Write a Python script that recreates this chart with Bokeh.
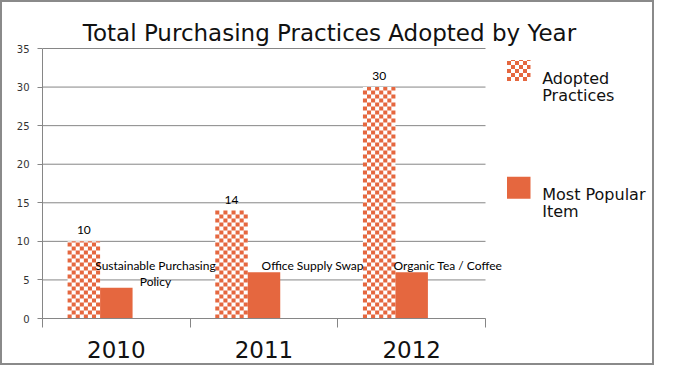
import math

from bokeh.plotting import figure
from bokeh.models import ColumnDataSource, Range1d, FixedTicker
from bokeh.transform import dodge
from bokeh.core.properties import value
from bokeh.embed import file_html
from bokeh.resources import INLINE

# ---- data ----
years = ["2010", "2011", "2012"]
adopted = [10, 14, 30]
popular = [4, 6, 6]
popular_items = ["Sustainable Purchasing\nPolicy", "Office Supply Swap", "Organic Tea / Coffee"]
series_names = ["Adopted\nPractices", "Most Popular\nItem"]
title_text = "Total Purchasing Practices Adopted by Year"
y_ticks = [0, 5, 10, 15, 20, 25, 30, 35]
y_max = 35

# ---- style / layout constants (pixels) ----
ORANGE = "#E5673F"
GRID = "#868686"
W, H = 654, 365
FL, FB = 40, 49               # frame left / bottom borders
CAT_PX = 443 / 3              # pixels per category
UNIT_PX = 270 / 35            # pixels per y unit
BAR_W = 0.22
CELL_PX = 4
ITEM_LABEL_DX = [0.265, 0.33, 0.245]   # label placement offsets (style)
ITEM_LABEL_Y = 7.8


def dx(px):
    return (px - FL) / CAT_PX


def dy(py):
    return (H - FB - py) / UNIT_PX


CELL_X = CELL_PX / CAT_PX
CELL_Y = CELL_PX / UNIT_PX


def checker_cells(x0, x1, y0, y1, cx, cy, out):
    nc = math.ceil((x1 - x0) / cx - 1e-9)
    nr = math.ceil((y1 - y0) / cy - 1e-9)
    for r in range(nr):
        for c in range(nc):
            if (r + c) % 2 == 0:
                out["left"].append(x0 + c * cx)
                out["right"].append(min(x0 + (c + 1) * cx, x1))
                out["bottom"].append(y0 + r * cy)
                out["top"].append(min(y0 + (r + 1) * cy, y1))


xc = [i + 0.5 for i in range(len(years))]
src = ColumnDataSource(dict(
    xc=xc, adopted=adopted, popular=popular,
    adopted_lbl=[str(v) for v in adopted], item=popular_items,
    item_x=[x + d for x, d in zip(xc, ITEM_LABEL_DX)], item_y=[ITEM_LABEL_Y] * len(years),
))

p = figure(width=W, height=H, output_backend="svg", toolbar_location=None,
           x_range=Range1d(0, dx(W)), y_range=Range1d(0, dy(0)),
           min_border_left=FL, min_border_right=0, min_border_top=0, min_border_bottom=FB)
p.styles = {"border": "2px solid #8a8a8a"}
p.outline_line_color = None
p.background_fill_color = "white"
p.border_fill_color = "white"
p.xgrid.grid_line_color = None
p.ygrid.grid_line_color = None

# horizontal grid lines over the category area
p.segment(x0=[0] * len(y_ticks), x1=[len(years)] * len(y_ticks), y0=y_ticks, y1=y_ticks,
          line_color=GRID, line_width=1)

# adopted practices: white base + checker cells
p.vbar(x=dodge("xc", -BAR_W), top="adopted", width=BAR_W, source=src,
       fill_color="white", line_color=None)
cells = dict(left=[], right=[], bottom=[], top=[])
for x, a in zip(xc, adopted):
    checker_cells(x - 1.5 * BAR_W, x - 0.5 * BAR_W, 0, a, BAR_W / 8, CELL_Y, cells)

# legend swatches (pixel positions converted to data space)
checker_cells(dx(504.5), dx(528), dy(78.5), dy(57.4), CELL_X, CELL_Y, cells)
p.quad(source=ColumnDataSource(cells), left="left", right="right", bottom="bottom", top="top",
       fill_color=ORANGE, line_color=None)
p.quad(left=[dx(504.5)], right=[dx(528)], bottom=[dy(196.3)], top=[dy(174.3)],
       fill_color=ORANGE, line_color=None)

# most popular item
p.vbar(x="xc", top="popular", width=BAR_W, source=src, fill_color=ORANGE, line_color=None)

# data labels
p.text(x=dodge("xc", -BAR_W), y="adopted", text="adopted_lbl", source=src,
       text_font=value("Lato"), text_font_size="12px", text_color="black",
       text_align="center", text_baseline="bottom", y_offset=-7)
p.text(x="item_x", y="item_y", text="item", source=src,
       text_font=value("Lato"), text_font_size="12px", text_color="black",
       text_align="center", text_baseline="top", text_line_height=1.05)

# title
p.text(x=[dx(327)], y=[dy(30.6)], text=[title_text],
       text_font=value("DejaVu Sans"), text_font_size="23px", text_color="#111111",
       text_align="center", text_baseline="alphabetic")

# legend texts
leg_x, leg_y, leg_t = [], [], []
for base, name in zip([75.6, 191.5], series_names):
    for j, line in enumerate(name.split("\n")):
        leg_x.append(dx(539.7))
        leg_y.append(dy(base + j * 17.5))
        leg_t.append(line)
p.text(x=leg_x, y=leg_y, text=leg_t,
       text_font=value("DejaVu Sans"), text_font_size="16px", text_color="#111111",
       text_align="left", text_baseline="alphabetic")

# axes
xa = p.xaxis[0]
xa.bounds = (0, len(years))
xa.ticker = FixedTicker(ticks=xc, minor_ticks=list(range(len(years) + 1)))
xa.major_label_overrides = {x: y for x, y in zip(xc, years)}
xa.major_tick_out = 0
xa.major_tick_in = 0
xa.minor_tick_out = 9
xa.minor_tick_in = 0
xa.minor_tick_line_color = GRID
xa.axis_line_color = GRID
xa.major_label_text_font = "DejaVu Sans"
xa.major_label_text_font_size = "23px"
xa.major_label_text_color = "#111111"
xa.major_label_standoff = 13

ya = p.yaxis[0]
ya.bounds = (0, y_max)
ya.ticker = FixedTicker(ticks=y_ticks, minor_ticks=[])
ya.major_tick_out = 5
ya.major_tick_in = 0
ya.major_tick_line_color = GRID
ya.axis_line_color = GRID
ya.major_label_text_font = "DejaVu Sans"
ya.major_label_text_font_size = "10px"
ya.major_label_text_color = "#333333"
ya.major_label_standoff = 8

open("out.html", "w").write(file_html(p, INLINE))
